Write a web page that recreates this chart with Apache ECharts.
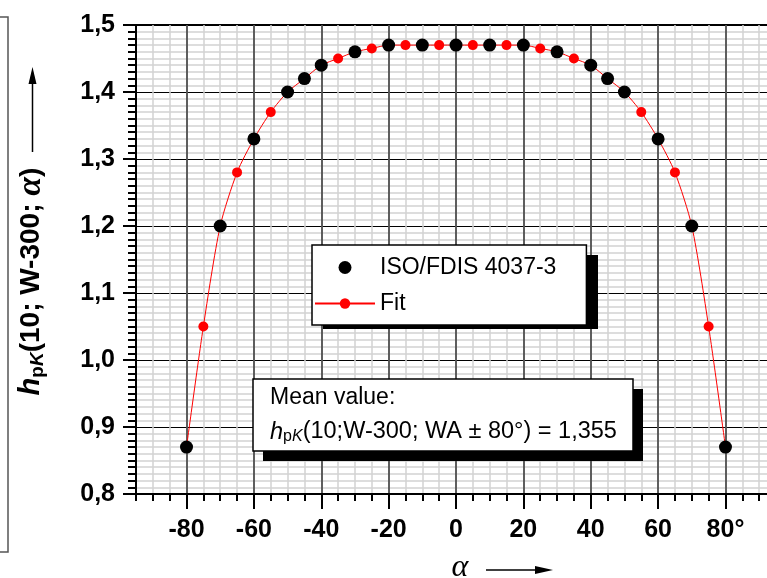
<!DOCTYPE html>
<html><head><meta charset="utf-8">
<script src="https://cdn.jsdelivr.net/npm/echarts@6/dist/echarts.min.js"></script>
<style>html,body{margin:0;padding:0;background:#fff}#c{width:767px;height:578px}</style>
</head><body><div id="c"></div>
<script>
// ISO/FDIS 4037-3 reference points
const alphaIso = [-80,-70,-60,-50,-45,-40,-30,-20,-10,0,10,20,30,40,45,50,60,70,80];
const hIso     = [0.87,1.20,1.33,1.40,1.42,1.44,1.46,1.47,1.47,1.47,1.47,1.47,1.46,1.44,1.42,1.40,1.33,1.20,0.87];
// Fit curve points
const alphaFit = [-80,-75,-70,-65,-60,-55,-50,-45,-40,-35,-30,-25,-20,-15,-10,-5,0,5,10,15,20,25,30,35,40,45,50,55,60,65,70,75,80];
const hFit     = [0.87,1.05,1.20,1.28,1.33,1.37,1.40,1.42,1.44,1.45,1.46,1.465,1.47,1.47,1.47,1.47,1.47,1.47,1.47,1.47,1.47,1.465,1.46,1.45,1.44,1.42,1.40,1.37,1.33,1.28,1.20,1.05,0.87];
// Tick labels
const xTickValues = [-80,-60,-40,-20,0,20,40,60,80];
const yTickValues = [0.8,0.9,1.0,1.1,1.2,1.3,1.4,1.5];
const seriesNames = ['ISO/FDIS 4037-3','Fit'];
const meanLine1 = 'Mean value:';
const meanLine2 = '(10;W-300; WA ± 80°) = 1,355';

const chart = echarts.init(document.getElementById('c'), null, {renderer:'canvas'});
const SANS = 'Liberation Sans';
const zip = (a,b)=>a.map((v,i)=>[v,b[i]]);

const option = {
  animation:false,
  backgroundColor:'#fff',
  grid:{left:136, top:25, width:640, bottom:84, show:true, borderColor:'#000', borderWidth:2, backgroundColor:'transparent',
        containLabel:false, outerBoundsMode:'none'},
  xAxis:[{
    type:'value', min:-95, max:95, interval:5, position:'bottom',
    axisLine:{show:true, onZero:false, lineStyle:{color:'#000', width:2}},
    axisTick:{show:true, length:7, lineStyle:{color:'#000', width:2}},
    axisLabel:{show:false},
    splitLine:{show:true, lineStyle:{color:'#d2d2d2', width:1.5}},
    name:'α', nameLocation:'middle', nameGap:58,
    nameTextStyle:{fontFamily:'Liberation Serif', fontStyle:'italic', fontSize:32, color:'#000', padding:[0,0,0,8]}
  },{
    type:'value', min:-95, max:95, interval:5, position:'bottom',
    axisLine:{show:false, onZero:false},
    axisTick:{show:true, length:15, customValues:xTickValues, lineStyle:{color:'#000', width:2}},
    axisLabel:{show:true, customValues:xTickValues, margin:24, fontFamily:SANS, fontWeight:'bold', fontSize:25, color:'#000',
      formatter:v=> v===80 ? '80°' : String(v)},
    splitLine:{show:true, lineStyle:{color:'#333', width:1.5}}
  }],
  yAxis:{
    type:'value', min:0.8, max:1.5, interval:0.1,
    axisLine:{show:true, onZero:false, lineStyle:{color:'#000', width:2}},
    axisTick:{show:true, length:13, lineStyle:{color:'#000', width:2}},
    minorTick:{show:true, splitNumber:10, length:8, lineStyle:{color:'#000', width:2}},
    splitLine:{show:true, lineStyle:{color:'#000', width:1}},
    minorSplitLine:{show:true, lineStyle:{color:'#d2d2d2', width:1.5}},
    axisLabel:{margin:21, fontFamily:SANS, fontWeight:'bold', fontSize:25, color:'#000',
      formatter:v=> yTickValues.some(t=>Math.abs(t-v)<1e-6) ? v.toFixed(1).replace('.',',') : ''},
    name:'{hi|h}{sub|p}{subi|K}{b|(10; W-300; }{al|α}{b|)}',
    nameLocation:'middle', nameGap:88,
    nameTextStyle:{fontFamily:SANS, fontWeight:'bold', fontSize:28, color:'#000', padding:[0,44,0,0],
      rich:{
        hi:{fontFamily:SANS, fontWeight:'bold', fontStyle:'italic', fontSize:29, color:'#000'},
        sub:{fontFamily:SANS, fontWeight:'bold', fontSize:19, color:'#000', padding:[14,0,0,0]},
        subi:{fontFamily:SANS, fontWeight:'bold', fontStyle:'italic', fontSize:19, color:'#000', padding:[14,0,0,0]},
        b:{fontFamily:SANS, fontWeight:'bold', fontSize:28, color:'#000'},
        al:{fontFamily:'Liberation Serif', fontWeight:'bold', fontStyle:'italic', fontSize:34, color:'#000'}
      }}
  },
  legend:{
    orient:'vertical', left:312, top:245, padding:[11,30,10,2], itemGap:13, itemWidth:60, itemHeight:13,
    backgroundColor:'#fff', borderColor:'#000', borderWidth:1.5, z:10,
    textStyle:{fontFamily:SANS, fontSize:23, color:'#000', lineHeight:20},
    data:seriesNames
  },
  graphic:[
    {type:'rect', shape:{x:-12, y:17, width:20, height:535}, style:{fill:'none', stroke:'#555', lineWidth:1.5}},
    {type:'line', shape:{x1:32.5, y1:152, x2:32.5, y2:80}, style:{stroke:'#000', lineWidth:1.5}},
    {type:'polygon', shape:{points:[[32.5,67],[28.5,84],[36.5,84]]}, style:{fill:'#000'}},
    {type:'line', shape:{x1:486, y1:570, x2:540, y2:570}, style:{stroke:'#000', lineWidth:1.5}},
    {type:'polygon', shape:{points:[[553,570],[535,566],[535,574]]}, style:{fill:'#000'}},
    // legend drop shadow
    {type:'rect', z:5, shape:{x:323, y:255, width:275, height:74}, style:{fill:'#000'}},
    // mean value box with drop shadow
    {type:'rect', z:99, shape:{x:263, y:389, width:380, height:72}, style:{fill:'#000'}},
    {type:'rect', z:100, shape:{x:253, y:379, width:380, height:72}, style:{fill:'#fff', stroke:'#000', lineWidth:1.5}},
    {type:'text', z:101, x:270, y:398, style:{text:meanLine1, font:'23px "Liberation Sans"', fill:'#000', verticalAlign:'middle'}},
    {type:'text', z:101, x:270, y:432, style:{
      text:'{hi|h}{sub|p}{subi|K}{n|'+meanLine2+'}', verticalAlign:'middle', fill:'#000',
      rich:{
        hi:{fontFamily:SANS, fontStyle:'italic', fontSize:23.5, fill:'#000'},
        sub:{fontFamily:SANS, fontSize:16, fill:'#000', padding:[10,0,0,0]},
        subi:{fontFamily:SANS, fontStyle:'italic', fontSize:16, fill:'#000', padding:[10,0,0,0]},
        n:{fontFamily:SANS, fontSize:23.5, fill:'#000'}
      }}}
  ],
  series:[
    {name:seriesNames[1], type:'line', xAxisIndex:0, data:zip(alphaFit,hFit), smooth:0.25,
      symbol:'circle', symbolSize:10, lineStyle:{color:'#ff0000', width:1}, itemStyle:{color:'#ff0000', opacity:1}, z:2},
    {name:seriesNames[0], type:'scatter', xAxisIndex:0, data:zip(alphaIso,hIso),
      symbol:'circle', symbolSize:13, itemStyle:{color:'#000', opacity:1}, z:3}
  ]
};
chart.setOption(option);
</script>
</body></html>
